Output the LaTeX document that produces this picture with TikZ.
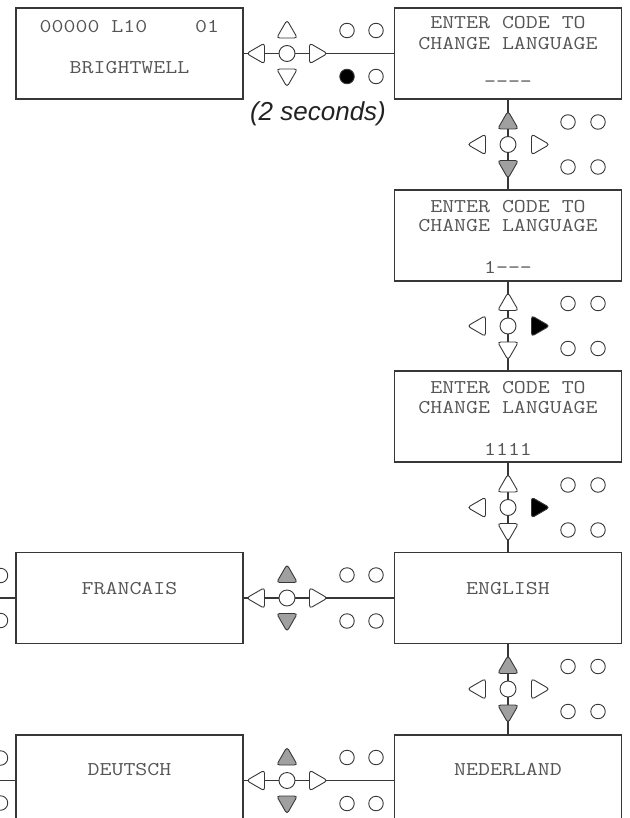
\documentclass[tikz,border=0pt]{standalone}
\usepackage{fontspec}
\setsansfont{Liberation Sans}
\usetikzlibrary{shapes.geometric,calc,backgrounds}
\definecolor{linec}{RGB}{55,55,55}
\definecolor{txtc}{RGB}{85,85,85}
\definecolor{keyg}{RGB}{160,160,160}
\newcommand\lcdtxt[1]{\scalebox{1.19}[1]{\fontsize{19.5}{20}\selectfont\ttfamily #1}}
\newcommand\hkeypad[5]{%
  \node[ctr] (#1c) at (#2,#3) {};
  \node[tlt] (#1l) at (#2-28.5,#3) {};
  \node[trt] (#1r) at (#2+28.5,#3) {};
  \node[tup,#4] (#1u) at (#2,#3-21.5) {};
  \node[tdn,#4] (#1d) at (#2,#3+21.5) {};
  \node[ind] (#1a) at (#2+60,#3-23) {};
  \node[ind] (#1b) at (#2+89,#3-23) {};
  \node[ind,#5] (#1e) at (#2+60,#3+23) {};
  \node[ind] (#1f) at (#2+89,#3+23) {};
}
\newcommand\vkeypad[5]{%
  \node[ctr] (#1c) at (#2,#3) {};
  \node[tup,#4] (#1u) at (#2,#3-21.5) {};
  \node[tdn,#4] (#1d) at (#2,#3+22) {};
  \node[tlt] (#1l) at (#2-28.5,#3) {};
  \node[trt,#5] (#1r) at (#2+29.5,#3) {};
  \node[ind] (#1a) at (#2+60,#3-22.5) {};
  \node[ind] (#1b) at (#2+90,#3-22.5) {};
  \node[ind] (#1e) at (#2+60,#3+22.5) {};
  \node[ind] (#1f) at (#2+90,#3+22.5) {};
}
\begin{document}
\begin{tikzpicture}[x=1pt,y=-1pt,
  scrbox/.style={draw=linec,line width=1.1pt,minimum width=227pt,minimum height=91pt,inner sep=0pt},
  lcd/.style={anchor=base,inner sep=0pt,text=txtc},
  conn/.style={draw=linec,line width=1.2pt},
  tri/.style={regular polygon,regular polygon sides=3,minimum size=24pt,inner sep=0pt,
    draw=linec,line width=0.9pt,rounded corners=3pt,fill=white},
  tup/.style={tri},
  tdn/.style={tri,shape border rotate=180},
  tlt/.style={tri,shape border rotate=90},
  trt/.style={tri,shape border rotate=270},
  ctr/.style={circle,draw=linec,line width=0.9pt,minimum size=16pt,inner sep=0pt,fill=white},
  ind/.style={circle,draw=linec,line width=0.9pt,minimum size=14.5pt,inner sep=0pt,fill=white},
  gk/.style={fill=keyg},
  bk/.style={fill=black}
]
\useasboundingbox (0,0) rectangle (629,818);

% screens
\node[scrbox] (b1) at (129.5,53.5) {};
\node[scrbox] (b2) at (508,53.5) {};
\node[scrbox] (b3) at (508,235.5) {};
\node[scrbox] (b4) at (508,416.5) {};
\node[scrbox] (b5) at (508,598) {};
\node[scrbox] (b6) at (129.5,598) {};
\node[scrbox] (b7) at (508,780.5) {};
\node[scrbox] (b8) at (129.5,780.5) {};

% screen texts
\node[lcd,anchor=base west] (t1a) at (39.5,33) {\lcdtxt{00000~L10~~~~01}};
\node[lcd] (t1b) at (129.5,74) {\lcdtxt{BRIGHTWELL}};
\node[lcd] (t2a) at (508,29) {\lcdtxt{ENTER CODE TO}};
\node[lcd] (t2b) at (508,50) {\lcdtxt{CHANGE LANGUAGE}};
\node[lcd] (t2c) at (508,88) {\lcdtxt{-{}-{}-{}-}};
\node[lcd] (t3a) at (508,212) {\lcdtxt{ENTER CODE TO}};
\node[lcd] (t3b) at (508,232) {\lcdtxt{CHANGE LANGUAGE}};
\node[lcd] (t3c) at (508,273) {\lcdtxt{1-{}-{}-}};
\node[lcd] (t4a) at (508,393) {\lcdtxt{ENTER CODE TO}};
\node[lcd] (t4b) at (508,413) {\lcdtxt{CHANGE LANGUAGE}};
\node[lcd] (t4c) at (508,455) {\lcdtxt{1111}};
\node[lcd] (t5) at (508,594) {\lcdtxt{ENGLISH}};
\node[lcd] (t6) at (129.5,594) {\lcdtxt{FRANCAIS}};
\node[lcd] (t7) at (508,775) {\lcdtxt{NEDERLAND}};
\node[lcd] (t8) at (129.5,775) {\lcdtxt{DEUTSCH}};

\node[anchor=base,inner sep=0pt,text={rgb,255:red,34;green,34;blue,34},
  font=\fontsize{26}{30}\selectfont\sffamily\itshape] (sec) at (318,121) {(2 seconds)};

% keypads
\hkeypad{hA}{287}{53.5}{}{bk}
\hkeypad{hB}{287}{598}{gk}{}
\hkeypad{hC}{287}{780.5}{gk}{}
\vkeypad{vA}{508}{144.5}{gk}{}
\vkeypad{vB}{508}{326}{}{bk}
\vkeypad{vC}{508}{507.5}{}{bk}
\vkeypad{vD}{508}{689}{gk}{}

% cut-off keypads at the left edge
\coordinate (eL1) at (0,598);
\coordinate (eL2) at (0,780.5);
\node[ind] (lA1) at (0.5,575.5) {};
\node[ind] (lA2) at (0.5,620.5) {};
\node[ind] (lB1) at (0.5,758) {};
\node[ind] (lB2) at (0.5,803) {};

% connectors
\begin{pgfonlayer}{background}
\draw[conn] (b1.east) -- (b2.west);
\draw[conn] (b2.south) -- (b3.north);
\draw[conn] (b3.south) -- (b4.north);
\draw[conn] (b4.south) -- (b5.north);
\draw[conn] (b6.east) -- (b5.west);
\draw[conn] (b5.south) -- (b7.north);
\draw[conn] (b8.east) -- (b7.west);
\draw[conn] (eL1) -- (b6.west);
\draw[conn] (eL2) -- (b8.west);
\end{pgfonlayer}
\end{tikzpicture}
\end{document}
